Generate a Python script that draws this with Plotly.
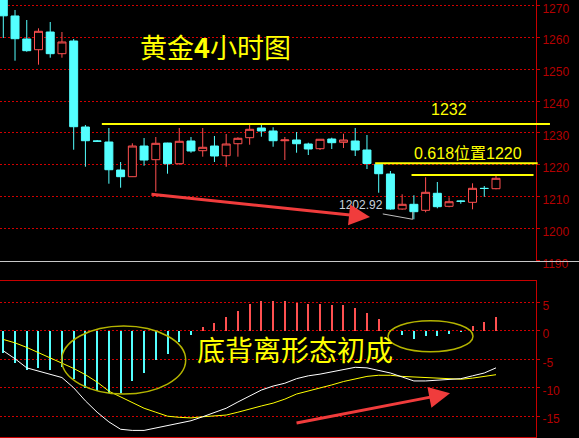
import plotly.graph_objects as go

# ---------------- data ----------------
idx = list(range(43))
open_ = [1273.5, 1266.65, 1259.44, 1256.08, 1261.63, 1254.83, 1258.81, 1231.85, 1227.46, 1227.15,
         1218.37, 1216.27, 1225.89, 1221.60, 1226.83, 1220.34, 1227.46, 1224.42, 1225.89, 1222.85,
         1226.61, 1228.50, 1231.54, 1230.60, 1227.55, 1227.78, 1226.52, 1225.05, 1228.09, 1227.05,
         1227.46, 1224.64, 1220.16, 1217.12, 1206.14, 1207.62, 1205.74, 1211.07, 1206.99, 1208.65,
         1208.24, 1212.63, 1212.51]
high = [1274.5, 1268.53, 1265.39, 1262.79, 1264.76, 1261.63, 1259.44, 1232.48, 1227.78, 1231.54,
        1220.88, 1226.74, 1228.40, 1228.72, 1226.90, 1231.54, 1228.72, 1231.54, 1229.03, 1229.66,
        1228.62, 1232.48, 1232.48, 1231.76, 1228.72, 1230.28, 1226.93, 1228.00, 1228.50, 1229.75,
        1231.54, 1229.34, 1220.47, 1218.06, 1210.75, 1210.44, 1216.08, 1214.61, 1209.81, 1208.87,
        1214.20, 1213.35, 1216.80]
low = [1259.75, 1252.63, 1255.45, 1251.38, 1253.57, 1253.57, 1224.73, 1219.40, 1227.15, 1214.08,
       1212.82, 1216.20, 1219.72, 1211.57, 1217.21, 1220.03, 1223.79, 1222.54, 1220.88, 1219.40,
       1222.54, 1226.30, 1228.81, 1225.67, 1221.50, 1223.79, 1223.07, 1224.64, 1224.95, 1225.27,
       1222.76, 1218.68, 1211.25, 1205.92, 1205.92, 1202.92, 1205.11, 1206.36, 1206.68, 1207.81,
       1206.05, 1210.00, 1212.32]
close = [1266.70, 1259.53, 1255.77, 1261.85, 1254.83, 1258.50, 1231.94, 1227.55, 1227.40, 1218.46,
         1216.27, 1225.89, 1221.50, 1226.74, 1220.34, 1227.37, 1224.33, 1225.49, 1222.76, 1226.52,
         1228.31, 1231.13, 1230.60, 1227.55, 1227.78, 1226.61, 1224.95, 1228.00, 1226.93, 1227.78,
         1224.64, 1220.41, 1217.21, 1206.14, 1207.62, 1205.30, 1211.38, 1206.87, 1208.43, 1208.56,
         1212.63, 1212.57, 1215.77]

macd_hist = [-3.75, -5.5, -6.7, -6.5, -6.7, -6.3, -8.45, -9.9, -10.4, -10.9, -10.9, -8.7, -7.3,
             -5.1, -4.05, -1.9, -0.6, 0.75, 1.5, 2.5, 3.6, 4.8, 5.3, 5.3, 5.3, 5.05, 4.75, 4.75,
             4.6, 4.6, 4.05, 3.2, 2.1, 0.05, -0.6, -1.3, -0.75, -0.75, -0.4, -0.05, 0.9, 1.6, 2.5]
dif = [-3.5, -4.9, -6.5, -7.1, -7.7, -8.2, -10.0, -12.3, -14.3, -16.0, -17.3, -17.5, -17.5, -17.1,
       -16.6, -16.2, -15.8, -15.1, -14.3, -13.6, -12.5, -11.4, -10.4, -9.7, -9.2, -8.4, -7.9, -7.6,
       -7.2, -6.9, -6.4, -6.5, -6.9, -7.4, -8.1, -8.8, -8.8, -8.7, -8.6, -8.4, -7.9, -7.4, -6.5]
dea = [-1.5, -2.1, -2.9, -3.8, -4.7, -5.6, -6.6, -7.7, -9.0, -10.6, -11.6, -12.7, -13.6, -14.3,
       -15.0, -15.2, -15.3, -15.1, -15.0, -14.8, -14.3, -13.7, -13.2, -12.7, -12.0, -11.1, -10.6,
       -10.0, -9.5, -8.9, -8.4, -8.0, -7.8, -7.8, -8.0, -8.1, -8.3, -8.4, -8.5, -8.5, -8.3, -8.0, -7.7]

price_ticks = [1190, 1200, 1210, 1220, 1230, 1240, 1250, 1260, 1270]
macd_ticks = [5, 0, -5, -10, -15]
macd_ticktext = ["5", "0", "-5", "-10", "-15"]

level_values = [1232.8, 1220.5, 1216.8]       # yellow horizontal lines
level_start = [8.4, 31.7, 34.8]               # candle index where each line starts
level_end = [46.6, 45.55, 45.2]               # candle index where each line ends
low_label = "1202.92"
leader_x = [32.35, 34.9, 34.9]
leader_y = [1204.6, 1202.92, 1205.3]

# ---------------- layout constants ----------------
W, H = 579, 438
XR = [-0.281, 45.41]
XDOM_R = 536 / W
Y1_RANGE = [1189.69, 1271.66]
Y1_DOM = [1 - 261.5 / H, 1]
Y2_RANGE = [-18.66, 8.87]
Y2_DOM = [1 / H, 1 - 280.5 / H]

RED_AX = "#c80000"
RED_TXT = "#b40000"
GRID = "#d00000"
CYAN = "#54ffff"
RED = "#ff5050"
YEL = "#ffff00"


def xpaper(i):
    return (i - XR[0]) / (XR[1] - XR[0]) * XDOM_R


fig = go.Figure()

fig.add_trace(go.Candlestick(
    x=idx, open=open_, high=high, low=low, close=close,
    increasing=dict(line=dict(color=RED, width=1), fillcolor="#000000"),
    decreasing=dict(line=dict(color=CYAN, width=1), fillcolor=CYAN),
    xaxis="x", yaxis="y", showlegend=False, hoverinfo="skip",
))

fig.add_trace(go.Scatter(
    x=leader_x, y=leader_y, mode="lines", line=dict(color="#bfbfbf", width=1),
    xaxis="x", yaxis="y", showlegend=False, hoverinfo="skip",
))

fig.add_trace(go.Bar(
    x=idx, y=macd_hist, width=0.09,
    marker=dict(color=[RED if v > 0 else CYAN for v in macd_hist], line=dict(width=0)),
    xaxis="x2", yaxis="y2", showlegend=False, hoverinfo="skip",
))
fig.add_trace(go.Scatter(
    x=idx, y=dea, mode="lines", line=dict(color=YEL, width=1),
    xaxis="x2", yaxis="y2", showlegend=False, hoverinfo="skip",
))
fig.add_trace(go.Scatter(
    x=idx, y=dif, mode="lines", line=dict(color="#ffffff", width=1),
    xaxis="x2", yaxis="y2", showlegend=False, hoverinfo="skip",
))

shapes = []
for v, s, e in zip(level_values, level_start, level_end):
    shapes.append(dict(type="line", xref="paper", yref="y", x0=xpaper(s), x1=xpaper(e),
                       y0=v, y1=v, line=dict(color=YEL, width=2)))
# grey separator under the price panel
shapes.append(dict(type="line", xref="paper", yref="paper", x0=0, x1=1,
                   y0=Y1_DOM[0], y1=Y1_DOM[0], line=dict(color="#c8c8c8", width=1)))
# ellipses in MACD panel
shapes.append(dict(type="circle", xref="x2", yref="y2", x0=4.98, x1=15.55, y0=-11.1, y1=0.86,
                   line=dict(color="#b4b400", width=1.5)))
shapes.append(dict(type="circle", xref="x2", yref="y2", x0=32.8, x1=40.04, y0=-3.66, y1=1.79,
                   line=dict(color="#b4b400", width=1.5)))

CJK = "Noto Sans CJK SC"
annotations = [
    dict(text="黄金<b>4</b>小时图", x=215.5 / W, y=1 - 46 / H, xref="paper", yref="paper",
         showarrow=False, font=dict(family=CJK, size=27, color=YEL), xanchor="center", yanchor="middle"),
    dict(text="1232", x=449.5 / W, y=1 - 109.5 / H, xref="paper", yref="paper",
         showarrow=False, font=dict(family="Liberation Sans, " + CJK, size=16, color=YEL),
         xanchor="center", yanchor="middle"),
    dict(text="0.618位置1220", x=467.8 / W, y=1 - 154 / H, xref="paper", yref="paper",
         showarrow=False, font=dict(family="Liberation Sans, " + CJK, size=16, color=YEL),
         xanchor="center", yanchor="middle"),
    dict(text=low_label, x=361 / W, y=1 - 205 / H, xref="paper", yref="paper",
         showarrow=False, font=dict(family="Liberation Sans", size=12, color="#c8d2dc"),
         xanchor="center", yanchor="middle"),
    dict(text="底背离形态初成", x=295 / W, y=1 - 349 / H, xref="paper", yref="paper",
         showarrow=False, font=dict(family=CJK, size=28, color=YEL), xanchor="center", yanchor="middle"),
    # arrows
    dict(text="", x=31.26, y=1203.6, ax=12.5, ay=1210.85, xref="x", yref="y", axref="x", ayref="y",
         showarrow=True, arrowhead=2, arrowsize=1.4, arrowwidth=3, arrowcolor="#f03c3c"),
    dict(text="", x=38.08, y=-10.98, ax=24.87, ay=-16.25, xref="x2", yref="y2", axref="x2", ayref="y2",
         showarrow=True, arrowhead=2, arrowsize=1.4, arrowwidth=3, arrowcolor="#f03c3c"),
]

tickfont = dict(family="Liberation Sans", size=12, color=RED_TXT)

fig.update_layout(
    width=W, height=H,
    margin=dict(l=0, r=0, t=0, b=0),
    paper_bgcolor="#000000", plot_bgcolor="#000000",
    template="none",
    showlegend=False,
    boxgap=0.15,
    boxgroupgap=0.2,
    bargap=0,
    xaxis=dict(domain=[0, XDOM_R], range=XR, anchor="y", showticklabels=False, showgrid=False,
               zeroline=False, showline=False, ticks="", rangeslider=dict(visible=False), automargin=False),
    yaxis=dict(domain=Y1_DOM, range=Y1_RANGE, anchor="x", side="right", tickvals=price_ticks,
               showgrid=True, gridcolor=GRID, griddash="2px,2px", gridwidth=1, zeroline=False,
               showline=True, linecolor=RED_AX, linewidth=1, ticks="outside", ticklen=3, tickcolor=RED_AX,
               tickfont=tickfont, ticklabelshift=3, automargin=False),
    xaxis2=dict(domain=[0, XDOM_R], range=XR, anchor="y2", showticklabels=False, showgrid=False,
                zeroline=False, showline=True, mirror=True, linecolor=RED_AX, linewidth=1, ticks="",
                automargin=False),
    yaxis2=dict(domain=Y2_DOM, range=Y2_RANGE, anchor="x2", side="right", tickvals=macd_ticks,
                ticktext=macd_ticktext, showgrid=True, gridcolor=GRID, griddash="2px,2px", gridwidth=1,
                zeroline=False, showline=True, linecolor=RED_AX, linewidth=1, ticks="outside", ticklen=3,
                tickcolor=RED_AX, tickfont=tickfont, ticklabelshift=3, automargin=False),
    shapes=shapes,
    annotations=annotations,
)

fig.write_html(
    "out.html",
    config={"displayModeBar": False},
    post_script="document.body.style.margin='0';document.body.style.overflow='hidden';",
)
